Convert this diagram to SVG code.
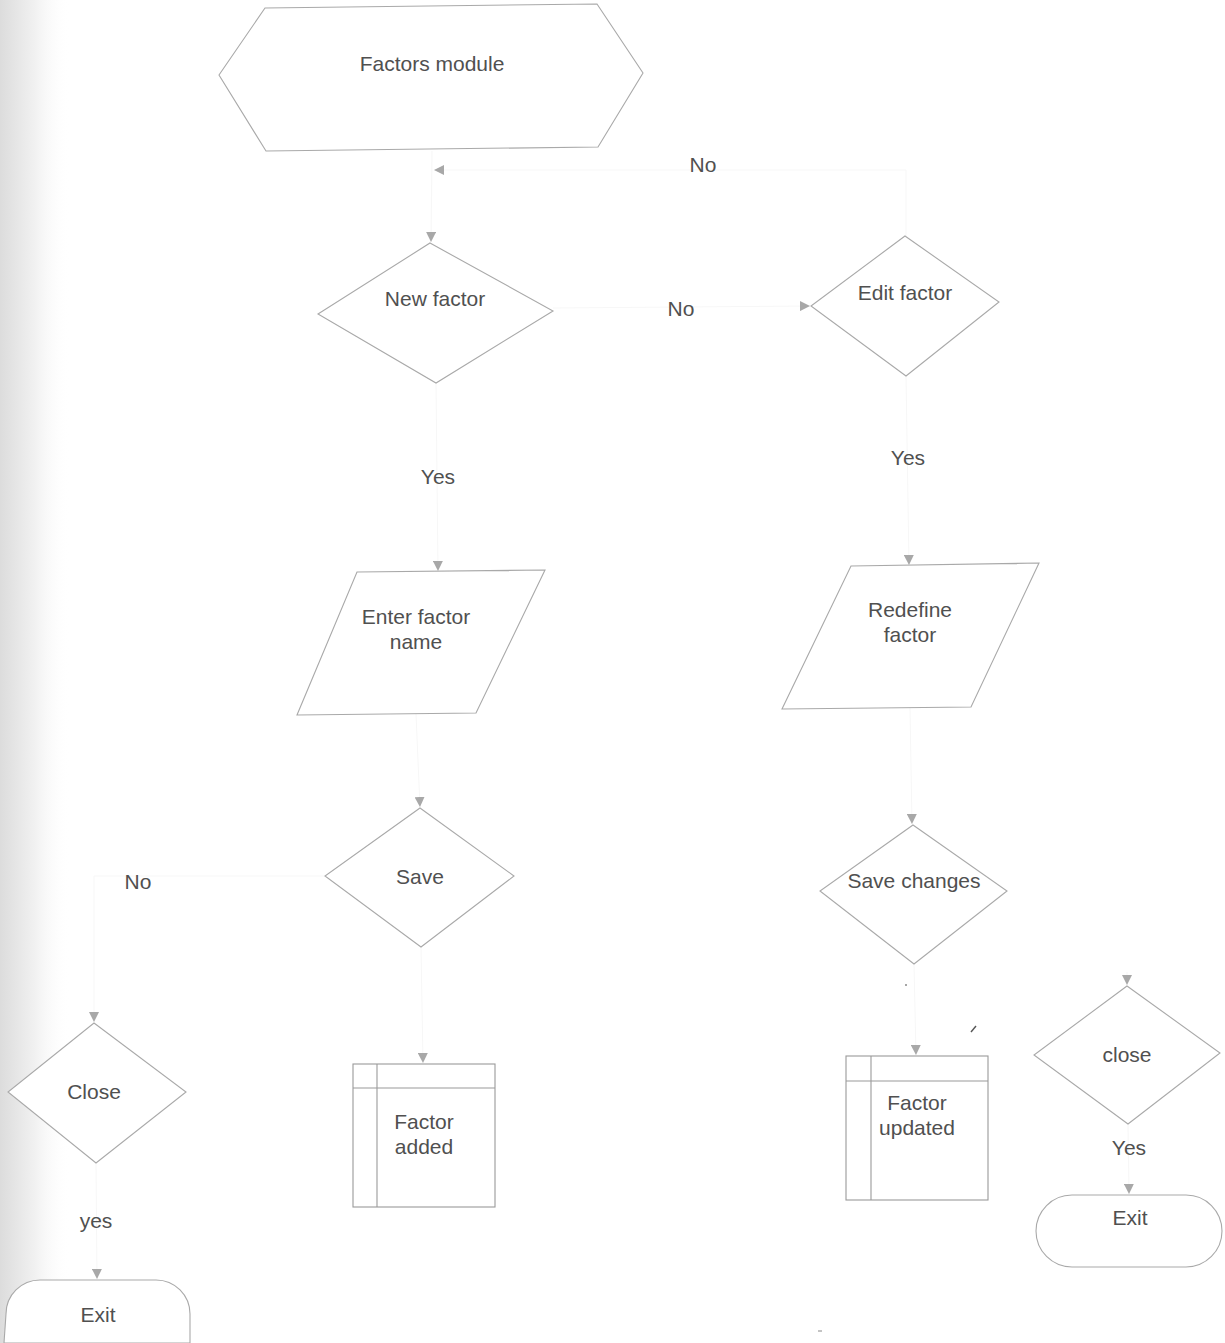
<svg xmlns="http://www.w3.org/2000/svg" width="1225" height="1343" viewBox="0 0 1225 1343">
  <defs>
    <linearGradient id="edgeShade" x1="0" y1="0" x2="1" y2="0">
      <stop offset="0" stop-color="#dcdcdc"/>
      <stop offset="0.5" stop-color="#f1f1f1"/>
      <stop offset="1" stop-color="#ffffff" stop-opacity="0"/>
    </linearGradient>
    <marker id="tip" viewBox="0 0 10 10" refX="10" refY="5" markerWidth="10" markerHeight="10" markerUnits="userSpaceOnUse" orient="auto">
      <path d="M0,0 L10,5 L0,10 Z" fill="#a8a8a8"/>
    </marker>
  </defs>
  <style>
    .shape { fill: #ffffff; stroke: #a9a9a9; stroke-width: 1.1; }
    .box { fill: #ffffff; stroke: #9a9a9a; stroke-width: 1.1; }
    .label { font-family: "Liberation Sans", Arial, sans-serif; font-size: 21px; fill: #505050; text-anchor: middle; }
    .edge { fill: none; stroke: #f7f7f7; stroke-width: 1; marker-end: url(#tip); }
  </style>

  <rect x="0" y="0" width="1225" height="1343" fill="#ffffff"/>
  <rect x="0" y="0" width="70" height="1343" fill="url(#edgeShade)"/>

  <!-- connectors -->
  <g id="connectors">
    <path class="edge" d="M906,236 L906,170 L434,170"/>
    <path class="edge" d="M432,151 L431,242"/>
    <path class="edge" d="M553,308 L810,306"/>
    <path class="edge" d="M436,383 L438,571"/>
    <path class="edge" d="M906,376 L909,565"/>
    <path class="edge" d="M416,714 L420,807"/>
    <path class="edge" d="M910,708 L912,824"/>
    <path class="edge" d="M325,876 L94,876 L94,1022"/>
    <path class="edge" d="M421,947 L423,1063"/>
    <path class="edge" d="M914,964 L916,1055"/>
    <path class="edge" d="M1127,972 L1127,985"/>
    <path class="edge" d="M96,1163 L97,1279"/>
    <path class="edge" d="M1128,1124 L1129,1194"/>
    <path d="M971,1032 L976,1026" stroke="#555" stroke-width="1.4"/>
    <circle cx="906" cy="985" r="1" fill="#888"/>
    <path d="M818,1331 L822,1331" stroke="#888" stroke-width="1"/>
  </g>

  <!-- edge labels -->
  <g id="edge-labels">
    <text class="label" x="703" y="172">No</text>
    <text class="label" x="681" y="316">No</text>
    <text class="label" x="438" y="484">Yes</text>
    <text class="label" x="908" y="465">Yes</text>
    <text class="label" x="138" y="889">No</text>
    <text class="label" x="96" y="1228">yes</text>
    <text class="label" x="1129" y="1155">Yes</text>
  </g>

  <g id="factors-module">
    <polygon class="shape" points="219,75 265,8 597,4 643,73 598,147 266,151"/>
    <text class="label" x="432" y="71">Factors module</text>
  </g>

  <g id="new-factor">
    <polygon class="shape" points="430,243 553,311 436,383 318,314"/>
    <text class="label" x="435" y="306">New factor</text>
  </g>

  <g id="edit-factor">
    <polygon class="shape" points="905,236 999,302 906,376 811,306"/>
    <text class="label" x="905" y="300">Edit factor</text>
  </g>

  <g id="enter-factor-name">
    <polygon class="shape" points="357,572 545,570 476,713 297,715"/>
    <text class="label" x="416" y="624">Enter factor</text>
    <text class="label" x="416" y="649">name</text>
  </g>

  <g id="redefine-factor">
    <polygon class="shape" points="851,566 1039,563 971,707 782,709"/>
    <text class="label" x="910" y="617">Redefine</text>
    <text class="label" x="910" y="642">factor</text>
  </g>

  <g id="save">
    <polygon class="shape" points="420,808 514,876 421,947 325,876"/>
    <text class="label" x="420" y="884">Save</text>
  </g>

  <g id="save-changes">
    <polygon class="shape" points="913,825 1007,891 914,964 820,891"/>
    <text class="label" x="914" y="888">Save changes</text>
  </g>

  <g id="close-left">
    <polygon class="shape" points="94,1023 186,1092 96,1163 8,1092"/>
    <text class="label" x="94" y="1099">Close</text>
  </g>

  <g id="exit-left">
    <path class="shape" d="M40,1280 L156,1280 A34,34 0 0 1 190,1314 L190,1343 L4,1343 L6,1314 A34,34 0 0 1 40,1280 Z"/>
    <text class="label" x="98" y="1322">Exit</text>
  </g>

  <g id="factor-added">
    <rect class="box" x="353" y="1064" width="142" height="143"/>
    <line class="box" x1="353" y1="1088" x2="495" y2="1088"/>
    <line class="box" x1="377" y1="1064" x2="377" y2="1207"/>
    <text class="label" x="424" y="1129">Factor</text>
    <text class="label" x="424" y="1154">added</text>
  </g>

  <g id="factor-updated">
    <rect class="box" x="846" y="1056" width="142" height="144"/>
    <line class="box" x1="846" y1="1081" x2="988" y2="1081"/>
    <line class="box" x1="871" y1="1056" x2="871" y2="1200"/>
    <text class="label" x="917" y="1110">Factor</text>
    <text class="label" x="917" y="1135">updated</text>
  </g>

  <g id="close-right">
    <polygon class="shape" points="1127,986 1220,1053 1128,1124 1034,1055"/>
    <text class="label" x="1127" y="1062">close</text>
  </g>

  <g id="exit-right">
    <rect class="shape" x="1036" y="1195" width="186" height="72" rx="36" ry="36"/>
    <text class="label" x="1130" y="1225">Exit</text>
  </g>
</svg>
